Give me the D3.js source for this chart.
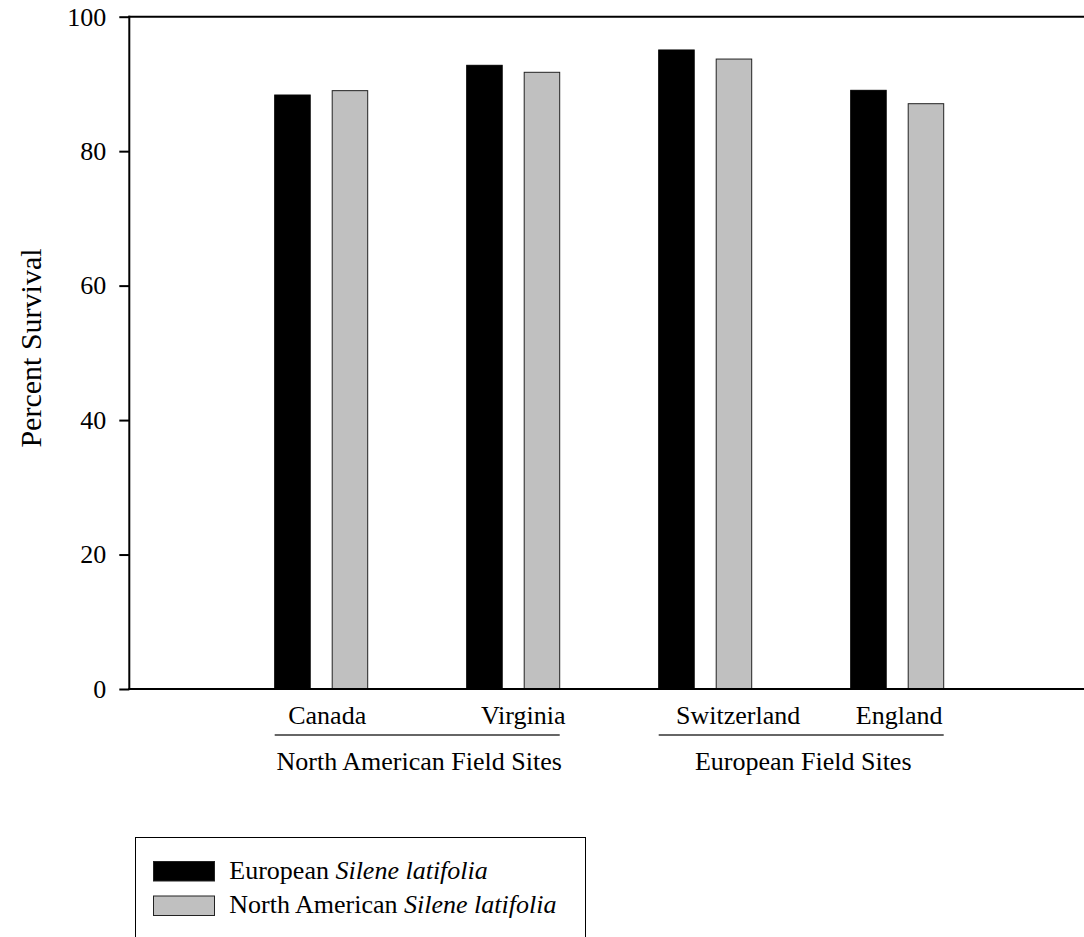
<!DOCTYPE html>
<html>
<head>
<meta charset="utf-8">
<script src="https://cdn.jsdelivr.net/npm/d3@7"></script>
<style>
  html, body { margin: 0; padding: 0; background: #fff; }
  svg { display: block; font-family: "Liberation Serif", "Times New Roman", serif; }
</style>
</head>
<body>
<svg id="chart" width="1084" height="937"></svg>
<script>
// ---- data ----
const categories = ["Canada", "Virginia", "Switzerland", "England"];
const groups = ["North American Field Sites", "European Field Sites"];
const groupMembers = [["Canada", "Virginia"], ["Switzerland", "England"]];
const seriesNames = ["European", "North American"];
const europeanValues = [88.35, 92.77, 95.05, 89.05];
const northAmericanValues = [89.0, 91.73, 93.7, 87.06];
const yTicks = [0, 20, 40, 60, 80, 100];

// ---- layout ----
const W = 1084, H = 937;
const axisX = 129.3, axisBottom = 689, axisTop = 16.7;
const labelShift = [6, 10, 33, 2]; // hand-placed category label nudges
const colors = { "European": "#000000", "North American": "#c0c0c0" };

const svg = d3.select("#chart");

const y = d3.scaleLinear().domain([0, 100]).range([axisBottom, axisTop]);
const x0 = d3.scaleBand().domain(categories).range([274.7, 943.7])
  .paddingInner(99 / 192).paddingOuter(0).align(0);
const x1 = d3.scaleBand().domain(seriesNames).range([0, x0.bandwidth()])
  .paddingInner(22 / 57.5).paddingOuter(0);

const rows = categories.map((c, i) => ({
  cat: c,
  vals: [
    { s: "European", v: europeanValues[i] },
    { s: "North American", v: northAmericanValues[i] }
  ]
}));

// bars
const g = svg.append("g");
g.selectAll("g.cat").data(rows).join("g")
  .attr("transform", d => `translate(${x0(d.cat)},0)`)
  .selectAll("rect").data(d => d.vals).join("rect")
  .attr("x", d => x1(d.s))
  .attr("width", x1.bandwidth())
  .attr("y", d => y(d.v))
  .attr("height", d => y(0) - y(d.v))
  .attr("fill", d => colors[d.s])
  .attr("stroke", d => d.s === "European" ? "#000" : "#222")
  .attr("stroke-width", 1);

// y axis
const yAxis = d3.axisLeft(y).tickValues(yTicks).tickSize(10).tickPadding(13);
const ya = svg.append("g").attr("transform", `translate(${axisX},0)`).call(yAxis);
ya.select(".domain").remove();
ya.selectAll(".tick line").attr("stroke", "#000").attr("stroke-width", 2);
ya.selectAll(".tick text").attr("font-size", 26)
  .attr("font-family", "'Liberation Serif', 'Times New Roman', serif").attr("fill", "#000");

// axis frame lines
svg.append("line").attr("x1", axisX).attr("x2", axisX)
  .attr("y1", y(100) - 1).attr("y2", y(0) + 1)
  .attr("stroke", "#000").attr("stroke-width", 2);
svg.append("line").attr("x1", axisX - 1).attr("x2", W + 2)
  .attr("y1", y(0)).attr("y2", y(0))
  .attr("stroke", "#000").attr("stroke-width", 2);
svg.append("line").attr("x1", axisX - 1).attr("x2", W + 2)
  .attr("y1", y(100)).attr("y2", y(100))
  .attr("stroke", "#000").attr("stroke-width", 2);

// category labels
svg.append("g").selectAll("text").data(categories).join("text")
  .attr("x", (d, i) => x0(d) + x0.bandwidth() / 2 + labelShift[i])
  .attr("y", 724)
  .attr("text-anchor", "middle")
  .attr("font-size", 26)
  .text(d => d);

// group lines & labels
groups.forEach((gname, i) => {
  const mem = groupMembers[i];
  const xa = x0(mem[0]);
  const xb = x0(mem[mem.length - 1]) + x0.bandwidth();
  svg.append("line").attr("x1", xa).attr("x2", xb)
    .attr("y1", 735).attr("y2", 735)
    .attr("stroke", "#333").attr("stroke-width", 1.5);
  svg.append("text").attr("x", (xa + xb) / 2 + 2).attr("y", 770)
    .attr("text-anchor", "middle").attr("font-size", 26).text(gname);
});

// y title
svg.append("text")
  .attr("transform", `translate(41,348) rotate(-90)`)
  .attr("text-anchor", "middle")
  .attr("font-size", 30)
  .text("Percent Survival");

// legend
const lg = svg.append("g");
lg.append("rect").attr("x", 135.5).attr("y", 837.5).attr("width", 450).attr("height", 120)
  .attr("fill", "none").attr("stroke", "#000").attr("stroke-width", 1);
seriesNames.forEach((s, i) => {
  lg.append("rect").attr("x", 153.5).attr("y", 861.5 + i * 34.5)
    .attr("width", 61).attr("height", 19.5)
    .attr("fill", colors[s]).attr("stroke", "#222").attr("stroke-width", 1);
  const t = lg.append("text").attr("x", 229.3).attr("y", 879 + i * 34).attr("font-size", 26);
  t.append("tspan").text(s + " ");
  t.append("tspan").attr("font-style", "italic").text("Silene latifolia");
});
</script>
</body>
</html>
